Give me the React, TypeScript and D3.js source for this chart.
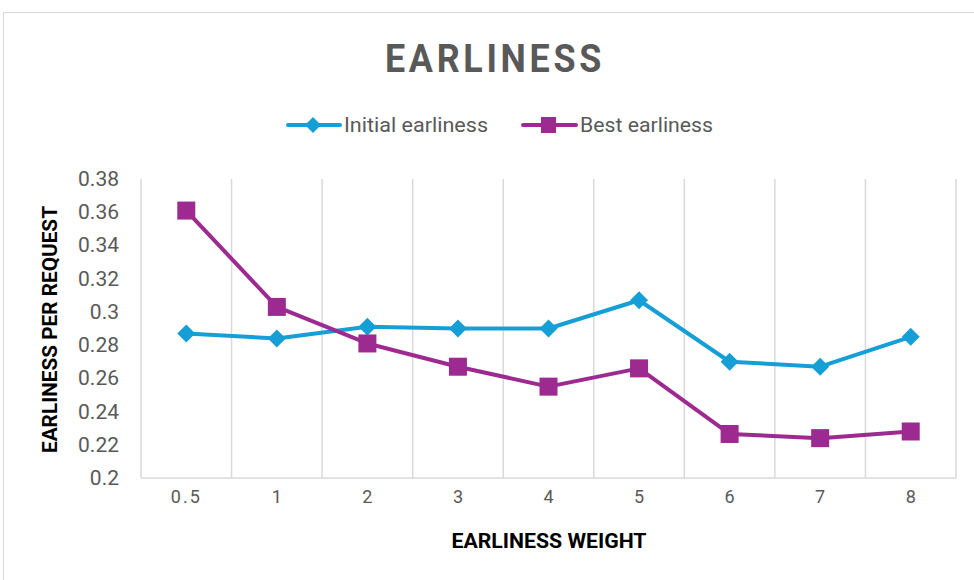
import React, { useEffect } from 'react';
import * as d3 from 'd3';

const categories = ['0.5', '1', '2', '3', '4', '5', '6', '7', '8'];
const initialEarliness = [0.287, 0.284, 0.291, 0.290, 0.290, 0.307, 0.270, 0.267, 0.285];
const bestEarliness = [0.361, 0.303, 0.281, 0.267, 0.255, 0.266, 0.2265, 0.224, 0.228];
const yTicks = [0.2, 0.22, 0.24, 0.26, 0.28, 0.3, 0.32, 0.34, 0.36, 0.38];

const BLUE = '#169fd6';
const PURPLE = '#9c2a91';
const GRAY = '#595959';
const FONT = 'Roboto, "Noto Sans", sans-serif';

const App: React.FC = () => {
  useEffect(() => {
    document.body.style.margin = '0';
  }, []);

  const width = 974;
  const height = 580;
  const left = 141, right = 956, top = 179, bottom = 478;

  const x = d3.scaleBand<string>().domain(categories).range([left, right]);
  const y = d3.scaleLinear().domain([0.2, 0.38]).range([bottom, top]);
  const cx = (c: string) => (x(c) ?? 0) + x.bandwidth() / 2;

  const line = d3.line<number>()
    .x((_, i) => cx(categories[i]))
    .y(d => y(d));

  const diamond = (px: number, py: number, r: number) =>
    `M${px},${py - r}L${px + r},${py}L${px},${py + r}L${px - r},${py}Z`;

  const boundaries = categories.map(c => x(c) ?? 0).concat([right]);

  return (
    <svg width={width} height={height} style={{ display: 'block', background: '#fff' }}>
      <rect x={3.5} y={12.5} width={980} height={580} fill="#fff" stroke="#d9d9d9" strokeWidth={1} />

      <text x={495} y={72} textAnchor="middle" fontFamily={FONT} fontWeight="bold"
        fontSize={39} fill={GRAY} letterSpacing={4} textLength={220} lengthAdjust="spacingAndGlyphs">
        EARLINESS
      </text>

      {/* legend */}
      <g>
        <line x1={288} x2={340} y1={125} y2={125} stroke={BLUE} strokeWidth={4} strokeLinecap="round" />
        <path d={diamond(313, 125, 8)} fill={BLUE} />
        <text x={344} y={132} fontFamily={FONT} fontSize={21} fill={GRAY}
          textLength={144} lengthAdjust="spacingAndGlyphs">Initial earliness</text>
        <line x1={523} x2={576} y1={125} y2={125} stroke={PURPLE} strokeWidth={4} strokeLinecap="round" />
        <rect x={541} y={117} width={15} height={16} fill={PURPLE} />
        <text x={580} y={132} fontFamily={FONT} fontSize={21} fill={GRAY}
          textLength={133} lengthAdjust="spacingAndGlyphs">Best earliness</text>
      </g>

      {/* grid */}
      {boundaries.map((b, i) => (
        <line key={i} x1={b} x2={b} y1={top} y2={bottom} stroke="#d9d9d9" strokeWidth={1.5} />
      ))}
      <line x1={left} x2={right} y1={bottom} y2={bottom} stroke="#d9d9d9" strokeWidth={1.5} />

      {/* y axis */}
      {yTicks.map(t => (
        <text key={t} x={119} y={y(t) + 7} textAnchor="end" fontFamily={FONT} fontSize={21} fill={GRAY}>
          {d3.format('~g')(t)}
        </text>
      ))}
      <text transform={`translate(57,${(top + bottom) / 2 + 1}) rotate(-90)`} textAnchor="middle"
        fontFamily={FONT} fontWeight="bold" fontSize={20} fill="#000"
        textLength={247} lengthAdjust="spacingAndGlyphs">
        EARLINESS PER REQUEST
      </text>

      {/* x axis */}
      {categories.map(c => (
        <text key={c} x={cx(c)} y={503} textAnchor="middle" fontFamily={FONT} fontSize={18} fill={GRAY}
          letterSpacing={c.length > 1 ? 2 : 0}>
          {c}
        </text>
      ))}
      <text x={549} y={548} textAnchor="middle" fontFamily={FONT} fontWeight="bold" fontSize={20} fill="#000"
        textLength={195} lengthAdjust="spacingAndGlyphs">
        EARLINESS WEIGHT
      </text>

      {/* series */}
      <path d={line(initialEarliness) ?? ''} fill="none" stroke={BLUE} strokeWidth={4} strokeLinejoin="round" />
      {initialEarliness.map((v, i) => (
        <path key={i} d={diamond(cx(categories[i]), y(v), 9)} fill={BLUE} />
      ))}
      <path d={line(bestEarliness) ?? ''} fill="none" stroke={PURPLE} strokeWidth={4} strokeLinejoin="round" />
      {bestEarliness.map((v, i) => (
        <rect key={i} x={cx(categories[i]) - 9} y={y(v) - 9} width={18} height={18} fill={PURPLE} />
      ))}
    </svg>
  );
};

export default App;
